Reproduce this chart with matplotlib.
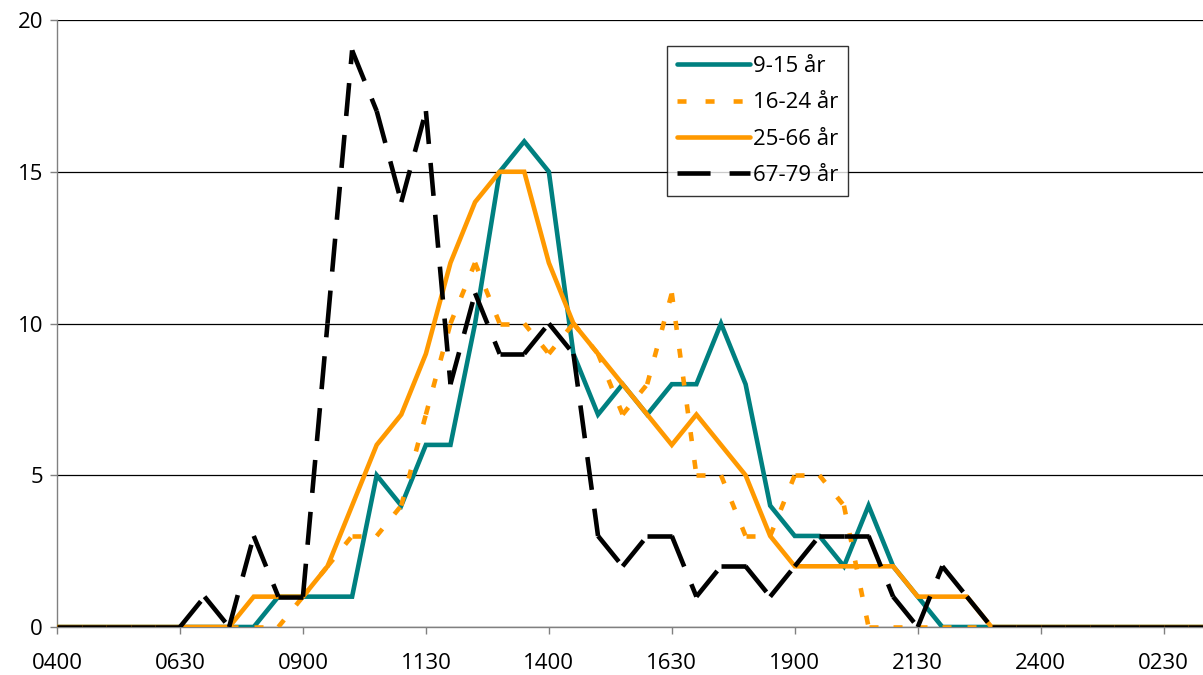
import numpy as np
import matplotlib
matplotlib.use('Agg')
import matplotlib.pyplot as plt
from matplotlib.collections import LineCollection
from matplotlib.lines import Line2D

plt.rcParams['font.family'] = ['Open Sans', 'DejaVu Sans']
plt.rcParams['lines.scale_dashes'] = False

# half-hour slots from 04:00 to 03:30 next day
slots = ['0400', '0430', '0500', '0530', '0600', '0630', '0700', '0730',
         '0800', '0830', '0900', '0930', '1000', '1030', '1100', '1130',
         '1200', '1230', '1300', '1330', '1400', '1430', '1500', '1530',
         '1600', '1630', '1700', '1730', '1800', '1830', '1900', '1930',
         '2000', '2030', '2100', '2130', '2200', '2230', '2300', '2330',
         '2400', '0030', '0100', '0130', '0200', '0230', '0300', '0330']

age_9_15 = [0, 0, 0, 0, 0, 0, 0, 0, 0, 1, 1, 1, 1, 5, 4, 6, 6, 10, 15, 16, 15, 9, 7, 8,
            7, 8, 8, 10, 8, 4, 3, 3, 2, 4, 2, 1, 0, 0, 0, 0, 0, 0, 0, 0, 0, 0, 0, 0]
age_16_24 = [0, 0, 0, 0, 0, 0, 0, 0, 0, 0, 1, 2, 3, 3, 4, 7, 10, 12, 10, 10, 9, 10, 9, 7,
             8, 11, 5, 5, 3, 3, 5, 5, 4, 0, 0, 0, 0, 0, 0, 0, 0, 0, 0, 0, 0, 0, 0, 0]
age_25_66 = [0, 0, 0, 0, 0, 0, 0, 0, 1, 1, 1, 2, 4, 6, 7, 9, 12, 14, 15, 15, 12, 10, 9, 8,
             7, 6, 7, 6, 5, 3, 2, 2, 2, 2, 2, 1, 1, 1, 0, 0, 0, 0, 0, 0, 0, 0, 0, 0]
age_67_79 = [0, 0, 0, 0, 0, 0, 1, 0, 3, 1, 1, 10, 19, 17, 14, 17, 8, 11, 9, 9, 10, 9, 3, 2,
             3, 3, 1, 2, 2, 1, 2, 3, 3, 3, 1, 0, 2, 1, 0, 0, 0, 0, 0, 0, 0, 0, 0, 0]

labels = ['9-15 år', '16-24 år', '25-66 år', '67-79 år']

teal = '#008080'
orange = '#FF9900'
lw = 3.3
dash_short = (0, (6.5, 13.7))
dash_long = (0, (23.8, 13.7))
fs = 16

fig = plt.figure(figsize=(12.03, 6.75), dpi=100)
ax = fig.add_axes([57 / 1203, 48 / 675, (1203 - 57) / 1203, 607 / 675])

x = np.arange(len(slots))


def dashed_segments(xs, ys, color, style, z):
    # each segment gets its own dash pattern, like the original chart
    pts = np.column_stack([xs, ys])
    segs = np.stack([pts[:-1], pts[1:]], axis=1)
    lc = LineCollection(segs, colors=color, linewidths=lw, linestyles=style,
                        capstyle='butt', zorder=z)
    ax.add_collection(lc)


ax.plot(x, age_9_15, color=teal, lw=lw, solid_joinstyle='miter', zorder=3)
dashed_segments(x, age_16_24, orange, dash_short, 4)
ax.plot(x, age_25_66, color=orange, lw=lw, solid_joinstyle='miter', zorder=5)
dashed_segments(x, age_67_79, 'black', dash_long, 6)

ax.set_xlim(0, 46.6)
ax.set_ylim(0, 20)
ax.set_yticks([0, 5, 10, 15, 20])
ax.set_xticks(x[::5])
ax.set_xticklabels(slots[::5])
ax.yaxis.grid(True, color='black', lw=0.9)
ax.set_axisbelow(True)

for s in ['top', 'right']:
    ax.spines[s].set_visible(False)
for s in ['left', 'bottom']:
    ax.spines[s].set_color('#808080')
    ax.spines[s].set_linewidth(1.0)

ax.tick_params(axis='x', direction='out', length=5, width=1, color='#808080',
               labelsize=fs, pad=14)
ax.tick_params(axis='y', direction='out', length=5, width=1, color='#808080',
               labelsize=fs, pad=5)

handles = [
    Line2D([], [], color=teal, lw=lw, solid_capstyle='round'),
    Line2D([], [], color=orange, lw=lw, linestyle=dash_short, dash_capstyle='butt'),
    Line2D([], [], color=orange, lw=lw, solid_capstyle='round'),
    Line2D([], [], color='black', lw=lw, linestyle=dash_long, dash_capstyle='butt'),
]
leg = ax.legend(handles, labels, loc='upper left', bbox_to_anchor=(610 / 1146, 1 - 26 / 607),
                fontsize=fs, frameon=True, fancybox=False, handlelength=3.3,
                handletextpad=0.1, borderpad=0.45, labelspacing=0.69, borderaxespad=0)
leg.get_frame().set_edgecolor('black')
leg.get_frame().set_linewidth(1.0)
leg.set_zorder(10)

fig.savefig('out.png', dpi=100)
